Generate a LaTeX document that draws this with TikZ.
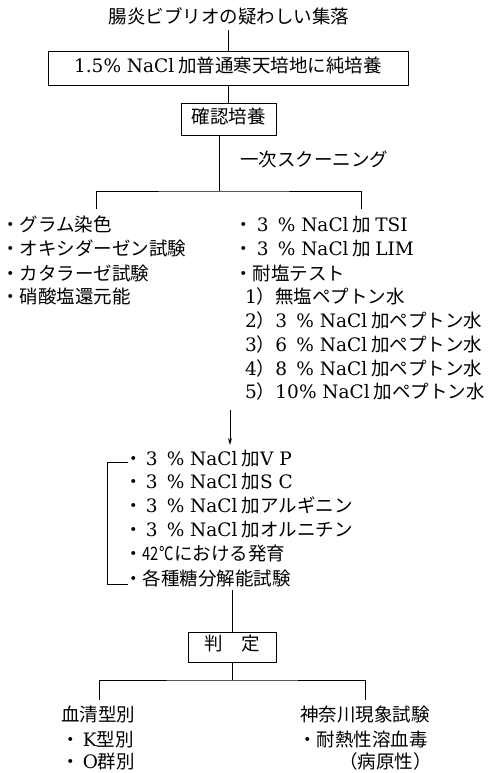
\documentclass[tikz,border=0pt]{standalone}
\usepackage{fontspec}
\setmainfont{Noto Sans CJK JP}
\newfontfamily\latfont{DejaVu Serif}
\newcommand{\mylat}[1]{{\latfont #1}}
\usetikzlibrary{arrows.meta}
\newcommand{\fs}{\fontsize{18.5}{22}\selectfont}
\tikzset{
  txt/.style={anchor=west, inner sep=0pt, text height=0.88em, text depth=0.12em, font=\fs},
  ctxt/.style={inner sep=0pt, text height=0.88em, text depth=0.12em, font=\fs},
  boxnode/.style={draw, line width=1pt, inner sep=0pt, text height=0.88em, text depth=0.12em, font=\fs},
  conn/.style={line width=0.8pt},
}
\begin{document}
\begin{tikzpicture}[x=1pt, y=-1pt]
\useasboundingbox (0,0) rectangle (495,773);
% top part
\node[ctxt] (title) at (229,20) {腸炎ビブリオの疑わしい集落};
\node[boxnode, minimum width=360pt, minimum height=34pt] (box1) at (228,69) {\mylat{1.5\% NaCl} 加普通寒天培地に純培養};
\node[boxnode, minimum width=95pt, minimum height=31pt] (box2) at (228.5,119.5) {確認培養};
\draw[conn, shorten <=5pt] (title.south -| box1.north) -- (box1.north);
\draw[conn] (box1.south) -- (box1.south |- box2.north);
\node[txt] (scr) at (240,163) {一次スクーニング};
\coordinate (s1) at (219,191);
\coordinate (l0) at (96,209);
\coordinate (r0) at (361,209);
\draw[conn] (box2.south -| s1) -- (s1);
\draw[conn] (l0) |- (s1) -| (r0);
% left list
\node[txt] (la) at (1,228) {・グラム染色};
\node[txt] (lb) at (1,252) {・オキシダーゼン試験};
\node[txt] (lc) at (1,277) {・カタラーゼ試験};
\node[txt] (ld) at (1,300) {・硝酸塩還元能};
% right list
\node[txt] (ra) at (234,228) {・\ \mylat{3\enspace\%\ NaCl} 加 \mylat{TSI}};
\node[txt] (rb) at (234,252) {・\ \mylat{3\enspace\%\ NaCl} 加 \mylat{LIM}};
\node[txt] (rc) at (234,277) {・耐塩テスト};
\node[txt] (rd) at (245,300) {\mylat{1}）無塩ペプトン水};
\node[txt] (re) at (245,324) {\mylat{2}）\mylat{3\enspace\%\ NaCl} 加ペプトン水};
\node[txt] (rf) at (245,348) {\mylat{3}）\mylat{6\enspace\%\ NaCl} 加ペプトン水};
\node[txt] (rg) at (245,372) {\mylat{4}）\mylat{8\enspace\%\ NaCl} 加ペプトン水};
\node[txt] (rh) at (245,395) {\mylat{5}）\mylat{10\% NaCl} 加ペプトン水};
% arrow
\coordinate (a0) at (230,410);
\coordinate (a1) at (230,445);
\draw[conn, -{Stealth[length=7pt,width=4pt]}] (a0) -- (a1);
% bracketed list
\node[txt] (m1) at (124,462) {・\,\mylat{3\enspace\%\ NaCl} 加\mylat{V P}};
\node[txt] (m2) at (124,485) {・\,\mylat{3\enspace\%\ NaCl} 加\mylat{S C}};
\node[txt] (m3) at (124,509) {・\,\mylat{3\enspace\%\ NaCl} 加アルギニン};
\node[txt] (m4) at (124,533) {・\,\mylat{3\enspace\%\ NaCl} 加オルニチン};
\node[txt] (m5) at (124,557) {・\scalebox{0.8}[1]{42°C}における発育};
\node[txt] (m6) at (124,582) {・各種糖分解能試験};
\coordinate (bt) at (128,462);
\coordinate (bb) at (128,584);
\draw[conn] (bt) -- ++(-21,0) |- (bb);
% judgement
\node[boxnode, minimum width=88pt, minimum height=30pt] (box3) at (232,647) {判　定};
\coordinate (c0) at (232,590);
\draw[conn] (c0) -- (box3.north);
\coordinate (s2) at (232,680);
\coordinate (b0) at (99,700);
\coordinate (b1) at (365,700);
\draw[conn] (box3.south) -- (s2);
\draw[conn] (b0) |- (s2) -| (b1);
% bottom texts
\node[txt] (k1) at (61,718) {血清型別};
\node[txt] (k2) at (61,743) {・\,\mylat{K}型別};
\node[txt] (k3) at (61,765) {・\,\mylat{O}群別};
\node[txt] (n1) at (300,718) {神奈川現象試験};
\node[txt] (n2) at (298,743) {・耐熱性溶血毒};
\node[txt] (n3) at (339,765) {（病原性）};
\end{tikzpicture}
\end{document}
